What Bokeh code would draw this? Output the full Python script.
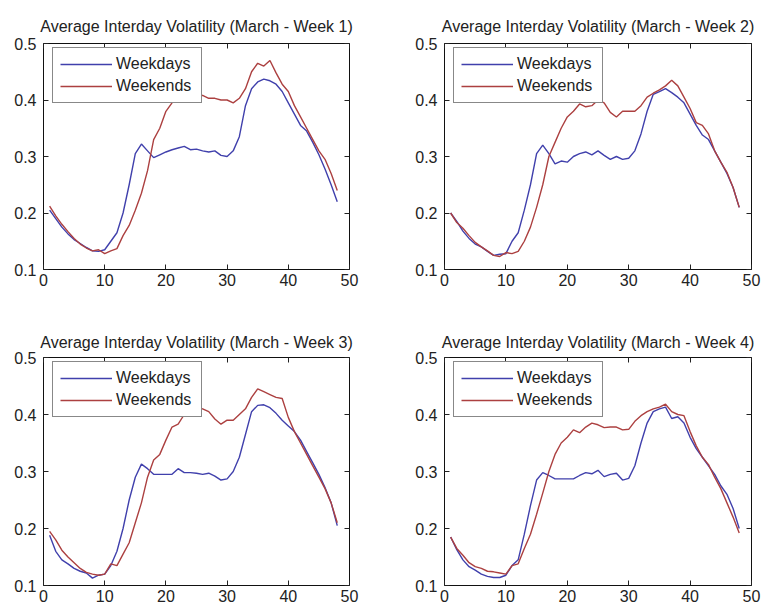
from bokeh.plotting import figure
from bokeh.layouts import gridplot
from bokeh.models import LinearAxis, FixedTicker, Range1d, Legend, LegendItem
from bokeh.embed import file_html
from bokeh.resources import INLINE

x = list(range(1, 49))

titles = [
    "Average Interday Volatility (March - Week 1)",
    "Average Interday Volatility (March - Week 2)",
    "Average Interday Volatility (March - Week 3)",
    "Average Interday Volatility (March - Week 4)",
]
series_names = ["Weekdays", "Weekends"]
x_ticks = [0, 10, 20, 30, 40, 50]
y_ticks = [0.1, 0.2, 0.3, 0.4, 0.5]

week1_weekdays = [0.205, 0.19, 0.175, 0.163, 0.153, 0.146, 0.139, 0.133, 0.132, 0.135,
                  0.15, 0.165, 0.20, 0.25, 0.305, 0.322, 0.31, 0.298, 0.303, 0.308,
                  0.312, 0.315, 0.318, 0.312, 0.313, 0.31, 0.308, 0.31, 0.302, 0.30,
                  0.31, 0.335, 0.39, 0.42, 0.432, 0.437, 0.434, 0.428, 0.415, 0.395,
                  0.375, 0.355, 0.345, 0.325, 0.303, 0.278, 0.25, 0.22]
week1_weekends = [0.212, 0.195, 0.18, 0.167, 0.155, 0.145, 0.138, 0.133, 0.135, 0.128,
                  0.133, 0.137, 0.16, 0.178, 0.205, 0.235, 0.275, 0.33, 0.35, 0.38,
                  0.395, 0.405, 0.41, 0.41, 0.41, 0.408, 0.403, 0.403, 0.40, 0.40,
                  0.395, 0.403, 0.42, 0.45, 0.465, 0.46, 0.47, 0.448, 0.428, 0.415,
                  0.39, 0.37, 0.35, 0.33, 0.31, 0.295, 0.27, 0.24]
week2_weekdays = [0.20, 0.185, 0.168, 0.155, 0.145, 0.14, 0.132, 0.125, 0.127, 0.128,
                  0.15, 0.165, 0.205, 0.25, 0.305, 0.32, 0.305, 0.287, 0.292, 0.29,
                  0.30, 0.305, 0.308, 0.303, 0.31, 0.302, 0.295, 0.30, 0.295, 0.297,
                  0.31, 0.34, 0.38, 0.41, 0.415, 0.42, 0.413, 0.405, 0.395, 0.375,
                  0.355, 0.338, 0.33, 0.31, 0.29, 0.27, 0.245, 0.21]
week2_weekends = [0.20, 0.183, 0.173, 0.16, 0.148, 0.14, 0.133, 0.125, 0.123, 0.13,
                  0.128, 0.132, 0.15, 0.175, 0.21, 0.25, 0.30, 0.325, 0.35, 0.37,
                  0.38, 0.393, 0.388, 0.39, 0.40, 0.395, 0.378, 0.37, 0.38, 0.38,
                  0.38, 0.39, 0.405, 0.412, 0.418, 0.425, 0.435, 0.425, 0.405, 0.385,
                  0.36, 0.355, 0.34, 0.31, 0.29, 0.272, 0.245, 0.21]
week3_weekdays = [0.188, 0.16, 0.145, 0.138, 0.13, 0.125, 0.122, 0.113, 0.118, 0.12,
                  0.135, 0.16, 0.20, 0.25, 0.29, 0.313, 0.305, 0.295, 0.295, 0.295,
                  0.295, 0.305, 0.298, 0.298, 0.297, 0.295, 0.297, 0.292, 0.285, 0.287,
                  0.30, 0.325, 0.365, 0.405, 0.416, 0.417, 0.412, 0.402, 0.39, 0.38,
                  0.37, 0.355, 0.335, 0.315, 0.295, 0.272, 0.245, 0.205]
week3_weekends = [0.195, 0.18, 0.162, 0.15, 0.14, 0.13, 0.123, 0.12, 0.118, 0.12,
                  0.138, 0.135, 0.155, 0.175, 0.21, 0.245, 0.29, 0.32, 0.33, 0.355,
                  0.378, 0.383, 0.40, 0.41, 0.413, 0.41, 0.405, 0.392, 0.383, 0.39,
                  0.39, 0.40, 0.41, 0.43, 0.445, 0.44, 0.435, 0.43, 0.428, 0.395,
                  0.37, 0.35, 0.33, 0.31, 0.29, 0.27, 0.245, 0.21]
week4_weekdays = [0.185, 0.163, 0.145, 0.133, 0.127, 0.12, 0.116, 0.114, 0.114, 0.118,
                  0.135, 0.145, 0.19, 0.24, 0.285, 0.298, 0.293, 0.287, 0.287, 0.287,
                  0.287, 0.293, 0.298, 0.296, 0.302, 0.291, 0.295, 0.297, 0.285, 0.288,
                  0.31, 0.35, 0.385, 0.405, 0.41, 0.413, 0.393, 0.396, 0.385, 0.36,
                  0.34, 0.325, 0.31, 0.295, 0.275, 0.26, 0.235, 0.20]
week4_weekends = [0.185, 0.165, 0.153, 0.14, 0.133, 0.13, 0.125, 0.124, 0.122, 0.12,
                  0.135, 0.138, 0.165, 0.19, 0.225, 0.262, 0.30, 0.33, 0.35, 0.36,
                  0.373, 0.368, 0.378, 0.385, 0.382, 0.377, 0.378, 0.378, 0.373, 0.374,
                  0.388, 0.398, 0.405, 0.41, 0.413, 0.418, 0.405, 0.40, 0.398, 0.37,
                  0.345, 0.325, 0.312, 0.29, 0.27, 0.245, 0.22, 0.192]

weekdays = [week1_weekdays, week2_weekdays, week3_weekdays, week4_weekdays]
weekends = [week1_weekends, week2_weekends, week3_weekends, week4_weekends]

BLUE = "#4040ac"
RED = "#ac4040"
FONT = "Liberation Sans"
TXT = "#222222"

# (left, right, top, bottom) borders per panel
borders = [(43, 31, 43, 45), (63, 11, 43, 45), (42, 32, 43, 27), (63, 11, 43, 27)]
sizes = [(381, 314), (381, 314), (381, 298), (381, 298)]
title_standoffs = [17, 17, 13, 13]


def style_axis(ax, show_labels=True):
    ax.major_tick_in = 5
    ax.major_tick_out = 0
    ax.minor_tick_line_color = None
    ax.axis_line_color = None
    ax.major_tick_line_color = "#222222"
    if show_labels:
        ax.major_label_text_font = FONT
        ax.major_label_text_font_size = "16px"
        ax.major_label_text_color = TXT
    else:
        ax.major_label_text_font_size = "0px"
        ax.major_label_text_color = None
        ax.major_label_standoff = 0


figs = []
for i in range(4):
    w, h = sizes[i]
    bl, br, bt, bb = borders[i]
    p = figure(width=w, height=h, output_backend="svg", toolbar_location=None,
               x_range=Range1d(0, 50), y_range=Range1d(0.1, 0.5),
               min_border_left=bl, min_border_right=br,
               min_border_top=bt, min_border_bottom=bb,
               x_axis_type=None, y_axis_type=None)
    p.title.text = titles[i]
    p.title.align = "center"
    p.title.text_font = FONT
    p.title.text_font_size = "16px"
    p.title.text_font_style = "normal"
    p.title.text_color = TXT
    p.title.standoff = title_standoffs[i]
    p.outline_line_color = "#111111"
    p.outline_line_width = 1
    p.xgrid.visible = False
    p.ygrid.visible = False
    p.background_fill_color = "white"
    p.border_fill_color = "white"

    xb = LinearAxis(ticker=FixedTicker(ticks=x_ticks))
    xt = LinearAxis(ticker=FixedTicker(ticks=x_ticks))
    yl = LinearAxis(ticker=FixedTicker(ticks=y_ticks))
    yr = LinearAxis(ticker=FixedTicker(ticks=y_ticks))
    for ax, lab in ((xb, True), (xt, False), (yl, True), (yr, False)):
        style_axis(ax, lab)
    xb.major_label_standoff = 4
    yl.major_label_standoff = 7
    p.add_layout(xb, "below")
    p.add_layout(xt, "above")
    p.add_layout(yl, "left")
    p.add_layout(yr, "right")

    r1 = p.line(x, weekdays[i], line_color=BLUE, line_width=1.4)
    r2 = p.line(x, weekends[i], line_color=RED, line_width=1.4)

    fh = h - bt - bb
    leg = Legend(items=[LegendItem(label=series_names[0], renderers=[r1]),
                        LegendItem(label=series_names[1], renderers=[r2])],
                 location=(9, fh - 5 - 55), margin=0, padding=7, spacing=4,
                 label_height=18, label_width=78, glyph_width=52, glyph_height=18,
                 label_standoff=4,
                 label_text_font=FONT, label_text_font_size="16px",
                 label_text_color=TXT,
                 border_line_color="#111111", border_line_width=1,
                 background_fill_color="white", background_fill_alpha=1.0)
    p.add_layout(leg, "center")
    figs.append(p)

grid = gridplot([[figs[0], figs[1]], [figs[2], figs[3]]], toolbar_location=None)

open("out.html", "w").write(file_html(grid, INLINE))
